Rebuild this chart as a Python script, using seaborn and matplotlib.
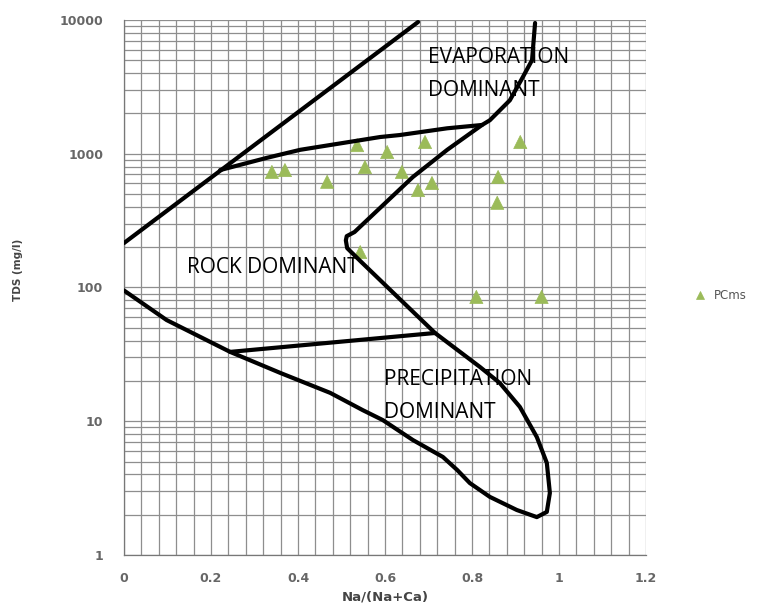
import numpy as np
import pandas as pd
import matplotlib
matplotlib.use("Agg")
import matplotlib.pyplot as plt
from matplotlib.ticker import MultipleLocator, LogLocator, NullFormatter
import seaborn as sns

# Sample points: Na/(Na+Ca) ratio and TDS (mg/l)
ratio = [0.340, 0.370, 0.467, 0.536, 0.554, 0.605, 0.639, 0.692, 0.708, 0.676,
         0.543, 0.911, 0.860, 0.858, 0.810, 0.960]
tds = [731, 755, 617, 1160, 795, 1030, 731, 1224, 604, 535,
       184, 1224, 670, 430, 85, 85]
series_name = "PCms"

# Gibbs boundary curves
upper_x = [0.0, 0.676]
upper_y = [215, 9660]

evap_x = [0.221, 0.329, 0.405, 0.589, 0.634, 0.743, 0.823]
evap_y = [755, 933, 1070, 1334, 1380, 1550, 1641]

right_x = [0.945, 0.938, 0.917, 0.887, 0.841, 0.823, 0.743, 0.664, 0.530,
           0.512, 0.510, 0.513, 0.543, 0.715, 0.818, 0.864, 0.910, 0.949,
           0.972, 0.979, 0.972, 0.949, 0.903, 0.841, 0.795, 0.766, 0.733,
           0.664, 0.595, 0.549, 0.474, 0.359, 0.244, 0.098, 0.0]
right_y = [9500, 5010, 3750, 2510, 1780, 1641, 1070, 670, 260,
           242, 225, 197, 158, 45.7, 25.5, 19.3, 12.8, 7.62,
           4.88, 2.91, 2.10, 1.92, 2.17, 2.72, 3.45, 4.32, 5.41,
           7.24, 10.2, 12.1, 16.3, 23.0, 33.0, 57.1, 95]

precip_x = [0.244, 0.715]
precip_y = [33.0, 45.7]

zones = ["EVAPORATION\nDOMINANT", "ROCK DOMINANT", "PRECIPITATION\nDOMINANT"]

sns.set_theme(style="white")
plt.rcParams["font.family"] = ["DejaVu Sans"]

fig = plt.figure(figsize=(7.68, 6.14), dpi=100)
ax = fig.add_axes([124 / 768, 59 / 614, 522 / 768, 535 / 614])

ax.set_yscale("log")
ax.set_xlim(0, 1.2)
ax.set_ylim(1, 10000)

# grid
ax.xaxis.set_major_locator(MultipleLocator(0.2))
ax.xaxis.set_minor_locator(MultipleLocator(0.04))
ax.yaxis.set_major_locator(LogLocator(base=10))
ax.yaxis.set_minor_locator(LogLocator(base=10, subs=np.arange(2, 10)))
ax.yaxis.set_minor_formatter(NullFormatter())
ax.grid(which="both", color="#8e8e8e", linewidth=0.9)
ax.set_axisbelow(True)

ax.set_xticks([0, 0.2, 0.4, 0.6, 0.8, 1.0, 1.2])
ax.set_xticklabels(["0", "0.2", "0.4", "0.6", "0.8", "1", "1.2"])
ax.set_yticks([1, 10, 100, 1000, 10000])
ax.set_yticklabels(["1", "10", "100", "1000", "10000"])
ax.tick_params(axis="both", which="major", length=5, width=0.8, color="#777777",
               labelsize=9, labelcolor="#666666")
ax.tick_params(axis="y", which="major", pad=10)
ax.tick_params(axis="x", which="major", pad=7)
for lab in ax.get_xticklabels() + ax.get_yticklabels():
    lab.set_fontweight("bold")
ax.tick_params(axis="both", which="minor", length=0)

for side in ["top", "right"]:
    ax.spines[side].set_visible(False)
for side in ["left", "bottom"]:
    ax.spines[side].set_color("#777777")
    ax.spines[side].set_linewidth(0.9)

# scatter points
df = pd.DataFrame({"ratio": ratio, "tds": tds, "series": series_name})
sns.scatterplot(data=df, x="ratio", y="tds", hue="series", palette=["#9bbb59"],
                marker="^", s=90, edgecolor="#9bbb59", linewidth=0.5, ax=ax, zorder=2)

# boundary curves
for xs, ys in [(upper_x, upper_y), (evap_x, evap_y), (right_x, right_y), (precip_x, precip_y)]:
    sns.lineplot(x=xs, y=ys, sort=False, estimator=None, color="black",
                 linewidth=3.0, ax=ax, zorder=3, legend=False)

ax.set_xlabel("Na/(Na+Ca)", fontsize=9.5, fontweight="bold", color="#444444", labelpad=4)
ax.set_ylabel("TDS (mg/l)", fontsize=7.5, fontweight="bold", color="#444444")
ax.yaxis.set_label_coords(-0.193, 0.533)

# zone labels
ax.text(0.698, 10 ** 3.595, zones[0], fontsize=15, family="Open Sans", color="black",
        va="center", ha="left", linespacing=1.75, zorder=4)
ax.text(0.145, 10 ** 2.146, zones[1], fontsize=15, family="Open Sans", color="black",
        va="center", ha="left", zorder=4)
ax.text(0.598, 10 ** 1.19, zones[2], fontsize=15, family="Open Sans", color="black",
        va="center", ha="left", linespacing=1.75, zorder=4)

leg = ax.legend(loc="center left", bbox_to_anchor=(1.06, 0.485), frameon=False,
                fontsize=8.5, handletextpad=0.2, markerscale=0.55)
for t in leg.get_texts():
    t.set_color("#555555")

fig.savefig("out.png", dpi=100)
